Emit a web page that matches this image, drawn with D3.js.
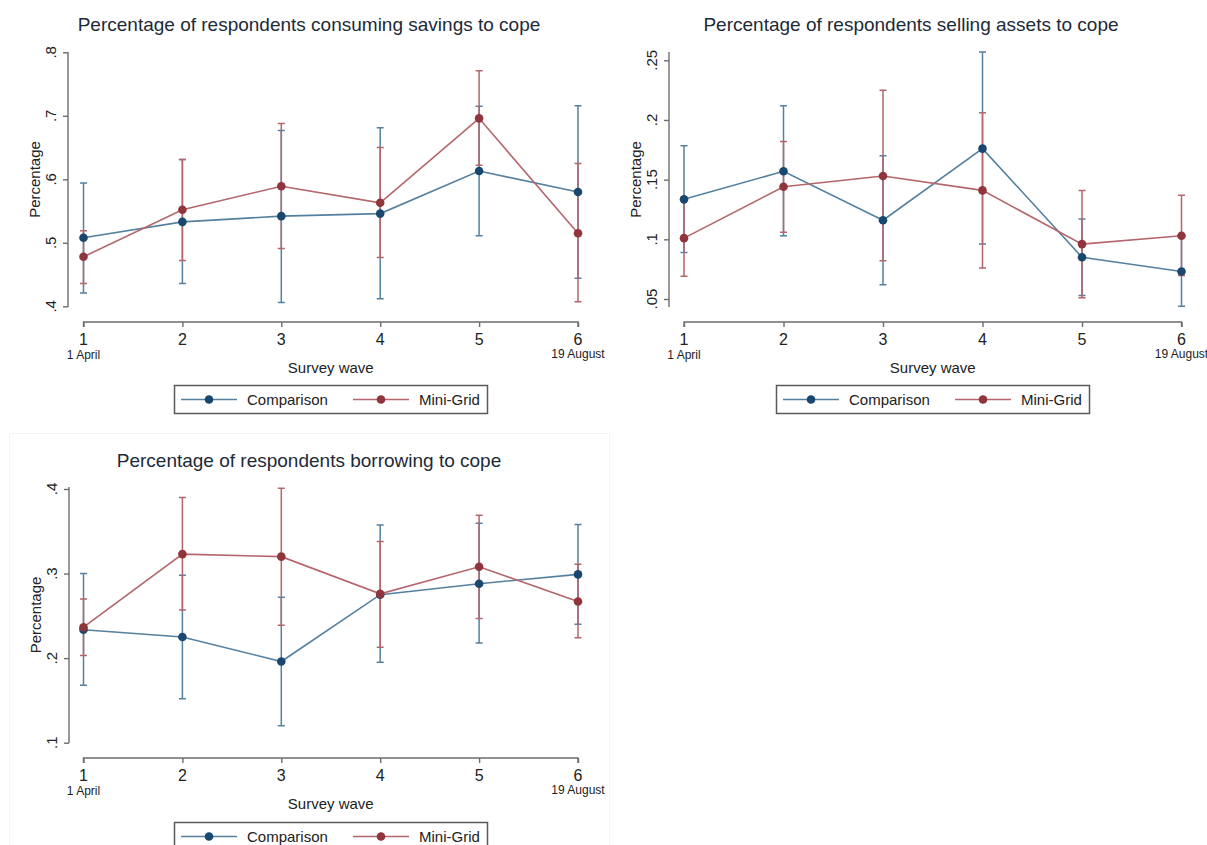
<!DOCTYPE html>
<html><head><meta charset="utf-8">
<script src="https://cdn.jsdelivr.net/npm/d3@7"></script>
<style>
html,body{margin:0;padding:0;background:#fff;}
text{font-family:"Liberation Sans",Arial,sans-serif;}
</style></head>
<body>
<svg id="chart" width="1207" height="845"></svg>
<script>
// ---------- DATA ----------
const waves = [1, 2, 3, 4, 5, 6];
const waveLabels = ["1", "2", "3", "4", "5", "6"];
const waveDates = ["1 April", "", "", "", "", "19 August"];
const seriesNames = ["Comparison", "Mini-Grid"];

const savingsComparison   = [0.508, 0.533, 0.542, 0.546, 0.613, 0.580];
const savingsComparisonLo = [0.421, 0.436, 0.406, 0.412, 0.511, 0.444];
const savingsComparisonHi = [0.594, 0.631, 0.677, 0.681, 0.715, 0.716];
const savingsMiniGrid     = [0.478, 0.552, 0.589, 0.563, 0.696, 0.515];
const savingsMiniGridLo   = [0.436, 0.472, 0.491, 0.477, 0.622, 0.407];
const savingsMiniGridHi   = [0.519, 0.631, 0.688, 0.650, 0.771, 0.625];
const savingsTicks = [0.4, 0.5, 0.6, 0.7, 0.8];
const savingsTickLabels = [".4", ".5", ".6", ".7", ".8"];

const assetsComparison   = [0.1335, 0.157, 0.116, 0.176, 0.085, 0.073];
const assetsComparisonLo = [0.089, 0.103, 0.062, 0.096, 0.053, 0.044];
const assetsComparisonHi = [0.1785, 0.212, 0.170, 0.257, 0.117, 0.102];
const assetsMiniGrid     = [0.101, 0.144, 0.153, 0.141, 0.096, 0.103];
const assetsMiniGridLo   = [0.069, 0.106, 0.082, 0.076, 0.051, 0.0696];
const assetsMiniGridHi   = [0.134, 0.182, 0.225, 0.206, 0.141, 0.137];
const assetsTicks = [0.05, 0.1, 0.15, 0.2, 0.25];
const assetsTickLabels = [".05", ".1", ".15", ".2", ".25"];

const borrowComparison   = [0.2335, 0.225, 0.196, 0.275, 0.288, 0.299];
const borrowComparisonLo = [0.168, 0.152, 0.120, 0.195, 0.218, 0.240];
const borrowComparisonHi = [0.300, 0.298, 0.272, 0.3575, 0.3595, 0.358];
const borrowMiniGrid     = [0.2366, 0.323, 0.320, 0.276, 0.308, 0.267];
const borrowMiniGridLo   = [0.203, 0.257, 0.239, 0.213, 0.247, 0.224];
const borrowMiniGridHi   = [0.270, 0.390, 0.401, 0.338, 0.369, 0.311];
const borrowTicks = [0.1, 0.2, 0.3, 0.4];
const borrowTickLabels = [".1", ".2", ".3", ".4"];

// ---------- STYLE ----------
const markerColors = ["#1a476f", "#90353b"];
const lineColors = ["#55809f", "#b4666c"];
const axisColor = "#6e6e6e";
const textColor = "#222222";

const svg = d3.select("#chart");

// faint background frame of the lower-left panel
svg.append("rect").attr("x", 9.5).attr("y", 433.5).attr("width", 600).attr("height", 420)
  .attr("fill", "none").attr("stroke", "#f4f4f4").attr("stroke-width", 1);

function panel(cfg) {
  const g = svg.append("g");
  const x = d3.scaleLinear().domain([1, 6]).range([cfg.x1, cfg.x6]);
  const y = d3.scaleLinear().domain(cfg.yDomain).range(cfg.yRange);

  // title
  g.append("text").attr("x", cfg.titleX).attr("y", cfg.top + 31)
    .attr("text-anchor", "middle").attr("font-size", 19).attr("fill", "#1d2a38")
    .text(cfg.title);

  // y axis
  const yAxis = d3.axisLeft(y).tickValues(cfg.ticks).tickSize(5).tickFormat("");
  const ya = g.append("g").attr("transform", `translate(${cfg.yAxisX},0)`).call(yAxis);
  ya.select(".domain").attr("d", `M-0,${cfg.plotTop}V${cfg.plotBottom}`);
  ya.selectAll("path,line").attr("stroke", axisColor).attr("stroke-width", 1.4);
  cfg.ticks.forEach((t, i) => {
    g.append("text")
      .attr("transform", `translate(${cfg.yAxisX - 12},${y(t)}) rotate(-90)`)
      .attr("text-anchor", "middle").attr("font-size", 15).attr("fill", textColor)
      .text(cfg.tickLabels[i]);
  });
  g.append("text")
    .attr("transform", `translate(${cfg.yAxisX - 28},${(cfg.plotTop + cfg.plotBottom) / 2}) rotate(-90)`)
    .attr("text-anchor", "middle").attr("font-size", 15).attr("fill", textColor)
    .text("Percentage");

  // x axis
  const xAxis = d3.axisBottom(x).tickValues(waves).tickSize(5).tickFormat("");
  const xa = g.append("g").attr("transform", `translate(0,${cfg.xAxisY})`).call(xAxis);
  xa.selectAll("path,line").attr("stroke", axisColor).attr("stroke-width", 1.4);
  xa.select(".domain").attr("d", `M${cfg.x1},5V0H${cfg.x6}V5`).attr("fill", "none");
  waves.forEach((w, i) => {
    g.append("text").attr("x", x(w)).attr("y", cfg.xAxisY + 23)
      .attr("text-anchor", "middle").attr("font-size", 16).attr("fill", textColor)
      .text(waveLabels[i]);
    if (waveDates[i]) {
      g.append("text").attr("x", x(w)).attr("y", cfg.xAxisY + (i === 5 ? 35.5 : 37))
        .attr("text-anchor", "middle").attr("font-size", 12).attr("fill", textColor)
        .text(waveDates[i]);
    }
  });
  g.append("text").attr("x", (cfg.x1 + cfg.x6) / 2).attr("y", cfg.xAxisY + 51)
    .attr("text-anchor", "middle").attr("font-size", 15).attr("fill", textColor)
    .text("Survey wave");

  // CIs
  const cap = 3.5;
  cfg.series.forEach((s, si) => {
    const cg = g.append("g").attr("stroke", lineColors[si]).attr("stroke-width", 1.5).attr("fill", "none");
    waves.forEach((w, i) => {
      const xx = x(w), lo = y(s.lo[i]), hi = y(s.hi[i]);
      cg.append("path").attr("d", `M${xx},${lo}V${hi}M${xx - cap},${lo}H${xx + cap}M${xx - cap},${hi}H${xx + cap}`);
    });
  });
  // lines and markers
  cfg.series.forEach((s, si) => {
    const line = d3.line().x((d, i) => x(waves[i])).y(d => y(d));
    g.append("path").datum(s.v).attr("d", line).attr("fill", "none")
      .attr("stroke", lineColors[si]).attr("stroke-width", 1.6);
    g.selectAll(null).data(s.v).enter().append("circle")
      .attr("cx", (d, i) => x(waves[i])).attr("cy", d => y(d)).attr("r", 4.3)
      .attr("fill", markerColors[si]);
  });

  // legend
  const lg = g.append("g");
  lg.append("rect").attr("x", cfg.legX + 0.5).attr("y", cfg.legY + 0.5)
    .attr("width", 313).attr("height", 28).attr("fill", "#fff")
    .attr("stroke", "#5a5a5a").attr("stroke-width", 1.5);
  const items = [{ x0: 7, name: seriesNames[0], tx: 73 }, { x0: 179, name: seriesNames[1], tx: 245 }];
  items.forEach((it, si) => {
    lg.append("line").attr("x1", cfg.legX + it.x0).attr("x2", cfg.legX + it.x0 + 56)
      .attr("y1", cfg.legY + 14.5).attr("y2", cfg.legY + 14.5)
      .attr("stroke", lineColors[si]).attr("stroke-width", 1.6);
    lg.append("circle").attr("cx", cfg.legX + it.x0 + 28).attr("cy", cfg.legY + 14.5).attr("r", 4.3)
      .attr("fill", markerColors[si]);
    lg.append("text").attr("x", cfg.legX + it.tx).attr("y", cfg.legY + 19.5)
      .attr("font-size", 15).attr("fill", textColor).text(it.name);
  });
}

panel({
  title: "Percentage of respondents consuming savings to cope", top: 0, titleX: 309,
  x1: 83.5, x6: 578, yAxisX: 68, plotTop: 52, plotBottom: 307,
  yDomain: [0.4, 0.8], yRange: [306.3, 52.3], ticks: savingsTicks, tickLabels: savingsTickLabels,
  xAxisY: 322, legX: 174, legY: 385,
  series: [
    { v: savingsComparison, lo: savingsComparisonLo, hi: savingsComparisonHi },
    { v: savingsMiniGrid, lo: savingsMiniGridLo, hi: savingsMiniGridHi }
  ]
});
panel({
  title: "Percentage of respondents selling assets to cope", top: 0, titleX: 911,
  x1: 684, x6: 1181.5, yAxisX: 669, plotTop: 52, plotBottom: 307,
  yDomain: [0.05, 0.25], yRange: [299, 60.3], ticks: assetsTicks, tickLabels: assetsTickLabels,
  xAxisY: 322, legX: 776, legY: 385,
  series: [
    { v: assetsComparison, lo: assetsComparisonLo, hi: assetsComparisonHi },
    { v: assetsMiniGrid, lo: assetsMiniGridLo, hi: assetsMiniGridHi }
  ]
});
panel({
  title: "Percentage of respondents borrowing to cope", top: 436, titleX: 309,
  x1: 83.5, x6: 578, yAxisX: 69, plotTop: 487, plotBottom: 743,
  yDomain: [0.1, 0.4], yRange: [742.7, 489], ticks: borrowTicks, tickLabels: borrowTickLabels,
  xAxisY: 758, legX: 174, legY: 822,
  series: [
    { v: borrowComparison, lo: borrowComparisonLo, hi: borrowComparisonHi },
    { v: borrowMiniGrid, lo: borrowMiniGridLo, hi: borrowMiniGridHi }
  ]
});
</script>
</body></html>
